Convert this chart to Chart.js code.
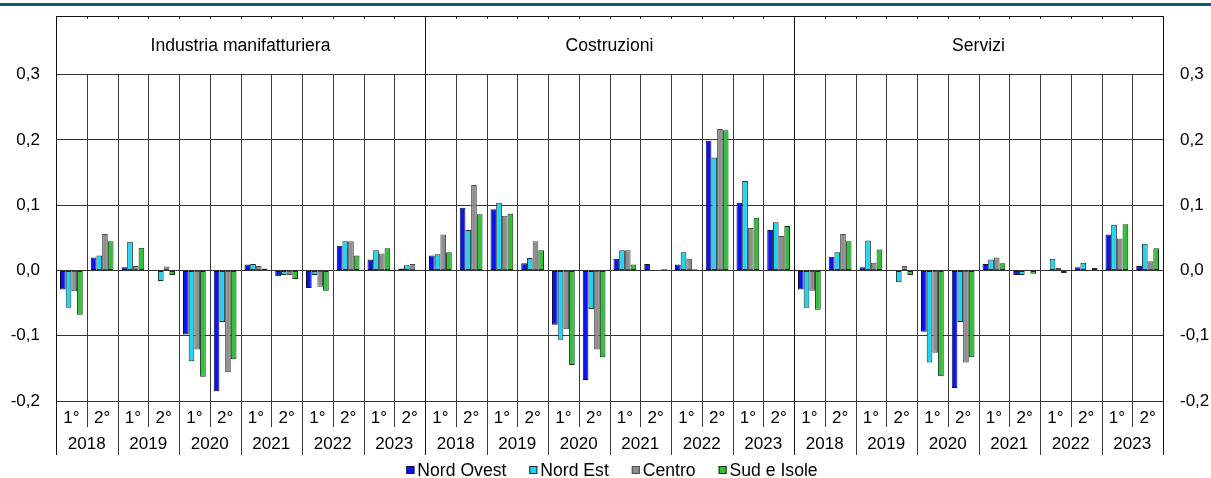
<!DOCTYPE html>
<html>
<head>
<meta charset="utf-8">
<script src="https://cdn.jsdelivr.net/npm/chart.js@4.4.0/dist/chart.umd.min.js"></script>
<style>
  html, body { margin: 0; padding: 0; background: #fff; }
  canvas { display: block; }
</style>
</head>
<body>
<canvas id="chart" width="1211" height="478"></canvas>
<script>
const sectors = ["Industria manifatturiera", "Costruzioni", "Servizi"];
const years = ["2018", "2019", "2020", "2021", "2022", "2023"];
const halves = ["1°", "2°"];
const seriesNames = ["Nord Ovest", "Nord Est", "Centro", "Sud e Isole"];
const yTicks = [-0.2, -0.1, 0, 0.1, 0.2, 0.3];

// values per sector block: manifattura, costruzioni, servizi
const nordOvest = [
  -0.029, 0.020, 0.005, 0.001, -0.098, -0.185, 0.009, -0.009, -0.027, 0.038, 0.017, 0.003,
  0.023, 0.096, 0.094, 0.011, -0.083, -0.168, 0.018, 0.010, 0.009, 0.199, 0.104, 0.062,
  -0.029, 0.021, 0.005, 0.001, -0.094, -0.180, 0.010, -0.007, 0.001, 0.005, 0.055, 0.007
];
const nordEst = [
  -0.057, 0.023, 0.044, -0.016, -0.139, -0.079, 0.010, -0.007, -0.007, 0.045, 0.031, 0.008,
  0.025, 0.062, 0.104, 0.019, -0.106, -0.059, 0.031, 0.000, 0.028, 0.173, 0.137, 0.074,
  -0.057, 0.028, 0.046, -0.018, -0.141, -0.079, 0.017, -0.007, 0.018, 0.012, 0.070, 0.041
];
const centro = [
  -0.032, 0.056, 0.007, 0.006, -0.121, -0.156, 0.007, -0.007, -0.025, 0.045, 0.026, 0.010,
  0.055, 0.131, 0.084, 0.045, -0.090, -0.121, 0.031, 0.001, 0.018, 0.217, 0.065, 0.053,
  -0.031, 0.056, 0.012, 0.007, -0.126, -0.141, 0.020, 0.001, 0.004, 0.001, 0.049, 0.014
];
const sudIsole = [
  -0.068, 0.045, 0.035, -0.007, -0.163, -0.136, 0.003, -0.013, -0.031, 0.023, 0.034, 0.001,
  0.028, 0.086, 0.087, 0.031, -0.145, -0.133, 0.009, 0.002, 0.002, 0.215, 0.081, 0.068,
  -0.060, 0.045, 0.032, -0.007, -0.162, -0.133, 0.011, -0.005, -0.004, 0.004, 0.071, 0.034
];

const colors = ["#0a14f0", "#1ed6f2", "#8e8e8e", "#30c03a"];
const borders = ["#101030", "#1a2a30", "#4a4a4a", "#143018"];
const FONT = "'Liberation Sans', Arial, sans-serif";
const fmt = (v) => v.toFixed(1).replace(".", ",");

const labels = [];
sectors.forEach((s) => years.forEach((y) => halves.forEach((h) => labels.push(s + " " + y + " " + h))));
const perYear = halves.length;
const perSector = years.length * halves.length;

const frame = {
  id: "frame",
  beforeDatasetsDraw(chart) {
    const { ctx, chartArea: a, scales: { x, y } } = chart;
    const n = labels.length;
    const edge = (i) => i === 0 ? a.left : i === n ? a.right
      : (x.getPixelForValue(i - 1) + x.getPixelForValue(i)) / 2;
    const top03 = y.getPixelForValue(0.3);
    ctx.save();
    ctx.lineWidth = 1;
    for (let i = 0; i <= n; i++) {
      const px = Math.round(edge(i)) + 0.5;
      const outer = i === 0 || i === n;
      const isPanel = outer || i % perSector === 0;
      const isYear = i % perYear === 0;
      ctx.strokeStyle = isPanel ? "#111" : "#3a3a3a";
      ctx.beginPath();
      ctx.moveTo(px, isPanel ? a.top : top03);
      ctx.lineTo(px, isYear ? a.bottom + 54 : a.bottom + 26);
      if (!isPanel) {
        ctx.moveTo(px, a.top);
        ctx.lineTo(px, a.top + 3);
      }
      ctx.stroke();
    }
    ctx.strokeStyle = "#111";
    ctx.beginPath();
    ctx.moveTo(a.left, a.top + 0.5);
    ctx.lineTo(a.right, a.top + 0.5);
    ctx.stroke();
    ctx.restore();
  },
  afterDraw(chart) {
    const { ctx, chartArea: a, scales: { x, y } } = chart;
    const top03 = y.getPixelForValue(0.3);
    ctx.save();
    ctx.fillStyle = "#0d5a78";
    ctx.fillRect(0, 3, chart.width, 3);

    ctx.fillStyle = "#000";
    ctx.textAlign = "center";
    ctx.textBaseline = "middle";
    ctx.font = "17.6px " + FONT;
    sectors.forEach((s, k) => {
      const x0 = x.getPixelForValue(k * perSector);
      const x1 = x.getPixelForValue((k + 1) * perSector - 1);
      ctx.fillText(s, (x0 + x1) / 2, (a.top + top03) / 2 + 1);
    });
    ctx.font = "17px " + FONT;
    labels.forEach((l, i) => {
      ctx.fillText(halves[i % perYear], x.getPixelForValue(i), a.bottom + 17);
    });
    for (let i = 0; i < labels.length; i += perYear) {
      const yr = years[(i / perYear) % years.length];
      const cx = (x.getPixelForValue(i) + x.getPixelForValue(i + perYear - 1)) / 2;
      ctx.fillText(yr, cx, a.bottom + 43);
    }

    // legend
    ctx.font = "17.6px " + FONT;
    const box = 8, gap = 3, space = 23;
    const widths = seriesNames.map((s) => box + gap + ctx.measureText(s).width);
    const total = widths.reduce((p, w) => p + w, 0) + space * (seriesNames.length - 1);
    let lx = 612 - total / 2;
    const ly = 470;
    ctx.textAlign = "left";
    seriesNames.forEach((s, k) => {
      ctx.fillStyle = colors[k];
      ctx.fillRect(lx, ly - box / 2, box, box);
      ctx.strokeStyle = borders[k];
      ctx.lineWidth = 1;
      ctx.strokeRect(lx + 0.5, ly - box / 2 + 0.5, box - 1, box - 1);
      ctx.fillStyle = "#000";
      ctx.fillText(s, lx + box + gap, ly + 1);
      lx += widths[k] + space;
    });
    ctx.restore();
  }
};

const series = [nordOvest, nordEst, centro, sudIsole];

const noPad = (s, w) => {
  s.width = w;
  s.paddingTop = 0;
  s.paddingBottom = 0;
};

new Chart(document.getElementById("chart"), {
  type: "bar",
  data: {
    labels: labels,
    datasets: series.map((d, k) => ({
      label: seriesNames[k],
      data: d,
      backgroundColor: colors[k],
      borderColor: borders[k],
      borderWidth: 1,
      borderSkipped: false,
      categoryPercentage: 0.74,
      barPercentage: 1.0,
    })),
  },
  options: {
    responsive: false,
    animation: false,
    devicePixelRatio: 1,
    layout: { padding: { top: 16, bottom: 77, left: 0, right: 0 } },
    plugins: { legend: { display: false }, tooltip: { enabled: false } },
    scales: {
      x: { display: false },
      y: {
        position: "left",
        min: -0.2,
        max: 0.39,
        afterBuildTicks: (s) => { s.ticks = yTicks.map((v) => ({ value: v })); },
        afterFit: (s) => noPad(s, 56),
        grid: { color: "#333", drawTicks: false },
        border: { color: "#111" },
        ticks: { padding: 16, color: "#000", font: { size: 17, family: FONT }, callback: (v) => fmt(v) },
      },
      y2: {
        position: "right",
        min: -0.2,
        max: 0.39,
        afterBuildTicks: (s) => { s.ticks = yTicks.map((v) => ({ value: v })); },
        afterFit: (s) => noPad(s, 48),
        grid: { display: false, drawTicks: false },
        border: { color: "#111" },
        ticks: { padding: 17, color: "#000", font: { size: 17, family: FONT }, callback: (v) => fmt(v) },
      },
    },
  },
  plugins: [frame],
});
</script>
</body>
</html>
